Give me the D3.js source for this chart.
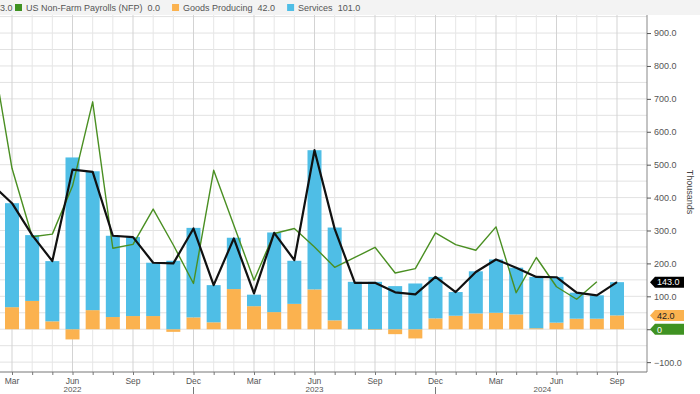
<!DOCTYPE html>
<html>
<head>
<meta charset="utf-8">
<script src="https://cdn.jsdelivr.net/npm/d3@7"></script>
<style>
  body { margin: 0; background: #fff; }
  text { font-family: "Liberation Sans", Arial, sans-serif; }
</style>
</head>
<body>
<div class="canvas"></div>
<script>
// months shown (Feb 2022 sits just off the left edge, lines run into it)
const months = ['2022-02','2022-03','2022-04','2022-05','2022-06','2022-07','2022-08','2022-09','2022-10','2022-11','2022-12',
  '2023-01','2023-02','2023-03','2023-04','2023-05','2023-06','2023-07','2023-08','2023-09','2023-10','2023-11','2023-12',
  '2024-01','2024-02','2024-03','2024-04','2024-05','2024-06','2024-07','2024-08','2024-09'];

// thousands of jobs
const goods = [60,67,86,24,-31,58,37,40,40,-8,36, 21,122,70,52,77,121,27,-1,-2,-15,-28,33, 41,48,50,45,3,20,32,32,42];
const services = [380,316,200,183,522,422,247,240,162,208,272, 113,156,35,242,131,423,282,144,144,131,139,126, 72,128,162,142,156,139,79,71,101];
const privateTotal = [440,383,286,207,485,478,284,280,202,200,306, 134,276,109,293,210,544,305,141,141,112,106,159, 113,174,212,187,159,158,111,103,143];
const nfp = [850,489,281,289,435,691,246,258,365,256,139, 483,316,149,291,306,250,188,218,249,171,184,293, 257,240,311,111,218,129,91,144,null];

const yTicks = [-100,0,100,200,300,400,500,600,700,800,900];
const xTickMonths = ['2022-03','2022-06','2022-09','2022-12','2023-03','2023-06','2023-09','2023-12','2024-03','2024-06','2024-09'];
const monthNames = ['Jan','Feb','Mar','Apr','May','Jun','Jul','Aug','Sep','Oct','Nov','Dec'];
const yearLabels = [{year:'2022', pos:5}, {year:'2023', pos:17}, {year:'2024', pos:28.3}];
const yearBreaks = ['2022-12','2023-12'];

const legendItems = [
  {name:'US Non-Farm Payrolls (NFP)', value:'0.0', color:'#3f9222'},
  {name:'Goods Producing', value:'42.0', color:'#fbb24f'},
  {name:'Services', value:'101.0', color:'#4fbee6'}
];

const W = 700, H = 394;
const colors = {goods:'#fbb24f', services:'#4fbee6', private:'#111', nfp:'#4a8f22'};

// month index from 'YYYY-MM'
const mIdx = s => (+s.slice(0,4) - 2022) * 12 + (+s.slice(5) - 1);

const svg = d3.select('.canvas')
    .append('svg')
    .attr('width', W)
    .attr('height', H);

const plot = {left:0, right:647, top:15, bottom:372};

const x = d3.scaleLinear()
    .domain([2, 32])          // Mar 2022 .. Sep 2024
    .range([12, 617]);
const y = d3.scaleLinear()
    .domain([-130, 950])
    .range([plot.bottom, 16.6]);

// legend band
svg.append('rect').attr('x',0).attr('y',0).attr('width',W).attr('height',plot.top).attr('fill','#f3f3f3');

svg.append('defs').append('clipPath').attr('id','clip')
  .append('rect').attr('x',plot.left).attr('y',plot.top)
  .attr('width',plot.right-plot.left).attr('height',plot.bottom-plot.top);

// grid
const grid = svg.append('g');
grid.selectAll('line.h')
  .data(d3.range(-100, 951, 50))
  .enter().append('line')
  .attr('x1', plot.left).attr('x2', plot.right)
  .attr('y1', d => y(d)).attr('y2', d => y(d))
  .attr('stroke', '#e2e2e2').attr('stroke-width', 1);
grid.selectAll('line.v')
  .data(d3.range(1, 33))
  .enter().append('line')
  .attr('x1', d => x(d)).attr('x2', d => x(d))
  .attr('y1', plot.top).attr('y2', plot.bottom)
  .attr('stroke', d => d % 3 === 2 ? '#d3d3d3' : '#e6e6e6').attr('stroke-width', 1);

// stacked bars (negative goods go below zero)
const table = months.map((m, i) => ({m: mIdx(m), goods: goods[i], services: services[i]}));
const stack = d3.stack().keys(['goods','services']).offset(d3.stackOffsetDiverging);
const series = stack(table);

const chart = svg.append('g').attr('clip-path','url(#clip)');
const barW = 14;
chart.selectAll('g.layer')
  .data(series)
  .enter().append('g')
  .attr('fill', d => colors[d.key])
  .selectAll('rect')
  .data(d => d)
  .enter().append('rect')
  .attr('x', d => x(d.data.m) - barW/2)
  .attr('width', barW)
  .attr('y', d => y(Math.max(d[0], d[1])))
  .attr('height', d => Math.abs(y(d[0]) - y(d[1])));

// lines
const line = d3.line()
  .defined(d => d.v != null)
  .x(d => x(d.m))
  .y(d => y(d.v));

chart.append('path')
  .datum(months.map((m, i) => ({m: mIdx(m), v: nfp[i]})))
  .attr('fill','none').attr('stroke', colors.nfp).attr('stroke-width', 1.4)
  .attr('stroke-linejoin','round')
  .attr('d', line);

chart.append('path')
  .datum(months.map((m, i) => ({m: mIdx(m), v: privateTotal[i]})))
  .attr('fill','none').attr('stroke', colors.private).attr('stroke-width', 2.2)
  .attr('stroke-linejoin','round')
  .attr('d', line);

// right axis (the 0.0 label sits under the green tag, so it is left blank)
const yAxis = d3.axisRight(y)
  .tickValues(yTicks)
  .tickSize(4)
  .tickPadding(3)
  .tickFormat(d => d === 0 ? '' : d3.format('.1f')(d));
const yAxisGroup = svg.append('g')
  .attr('transform', `translate(${plot.right},0)`)
  .call(yAxis);
yAxisGroup.select('.domain').attr('d', `M0,${plot.top}V${plot.bottom}`).attr('stroke','#888');
yAxisGroup.selectAll('.tick line').attr('stroke','#555');
yAxisGroup.selectAll('.tick text').attr('fill','#555').style('font-size','9px');

svg.append('text')
  .attr('transform', `translate(687,192) rotate(90)`)
  .attr('text-anchor','middle')
  .attr('fill','#444')
  .style('font-size','9px')
  .text('Thousands');

// bottom axis
const xAxis = d3.axisBottom(x)
  .tickValues(d3.range(1, 33))
  .tickSize(3)
  .tickFormat('');
const xAxisGroup = svg.append('g')
  .attr('transform', `translate(0,${plot.bottom})`)
  .call(xAxis);
xAxisGroup.select('.domain').attr('d', `M${plot.left},0H${plot.right}`).attr('stroke','#777');
xAxisGroup.selectAll('.tick line').attr('stroke','#777');

svg.append('g').selectAll('text')
  .data(xTickMonths)
  .enter().append('text')
  .attr('x', d => x(mIdx(d)))
  .attr('y', 384)
  .attr('text-anchor','middle')
  .attr('fill','#555')
  .style('font-size','8.5px')
  .text(d => monthNames[+d.slice(5) - 1]);

svg.append('g').selectAll('text')
  .data(yearLabels)
  .enter().append('text')
  .attr('x', d => x(d.pos))
  .attr('y', 392)
  .attr('text-anchor','middle')
  .attr('fill','#555')
  .style('font-size','8px')
  .text(d => d.year);

svg.append('g').selectAll('line')
  .data(yearBreaks)
  .enter().append('line')
  .attr('x1', d => x(mIdx(d))).attr('x2', d => x(mIdx(d)))
  .attr('y1', 387).attr('y2', 394)
  .attr('stroke','#777');

// last value tags
const lastTags = [
  {v: 143, label:'143.0', fill:'#000', text:'#fff'},
  {v: 42, label:'42.0', fill:'#fbb24f', text:'#222'},
  {v: 0, label:'0', fill:'#3f9222', text:'#fff'}
];
const tags = svg.append('g').selectAll('g')
  .data(lastTags)
  .enter().append('g')
  .attr('transform', d => `translate(650,${y(d.v)})`);
tags.append('path')
  .attr('d', 'M0,0L5,-5.5H34V5.5H5Z')
  .attr('fill', d => d.fill);
tags.append('text')
  .attr('x', 7).attr('y', 3.3)
  .attr('fill', d => d.text)
  .style('font-size','9px')
  .text(d => d.label);

// legend, laid out left to right
svg.append('text').attr('x', 0).attr('y', 10.5).attr('fill','#555').style('font-size','9px').text('3.0');
let lx = 15;
legendItems.forEach(d => {
  const g = svg.append('g').attr('transform', `translate(${lx},0)`);
  g.append('rect').attr('x',0).attr('y',4).attr('width',7).attr('height',7).attr('fill', d.color);
  const t1 = g.append('text').attr('x', 11).attr('y', 10.5).attr('fill','#555').style('font-size','9px').text(d.name);
  const w1 = t1.node().getComputedTextLength();
  const t2 = g.append('text').attr('x', 11 + w1 + 5).attr('y', 10.5).attr('fill','#555').style('font-size','9px').text(d.value);
  const w2 = t2.node().getComputedTextLength();
  lx += 11 + w1 + 5 + w2 + 12;
});
</script>
</body>
</html>
